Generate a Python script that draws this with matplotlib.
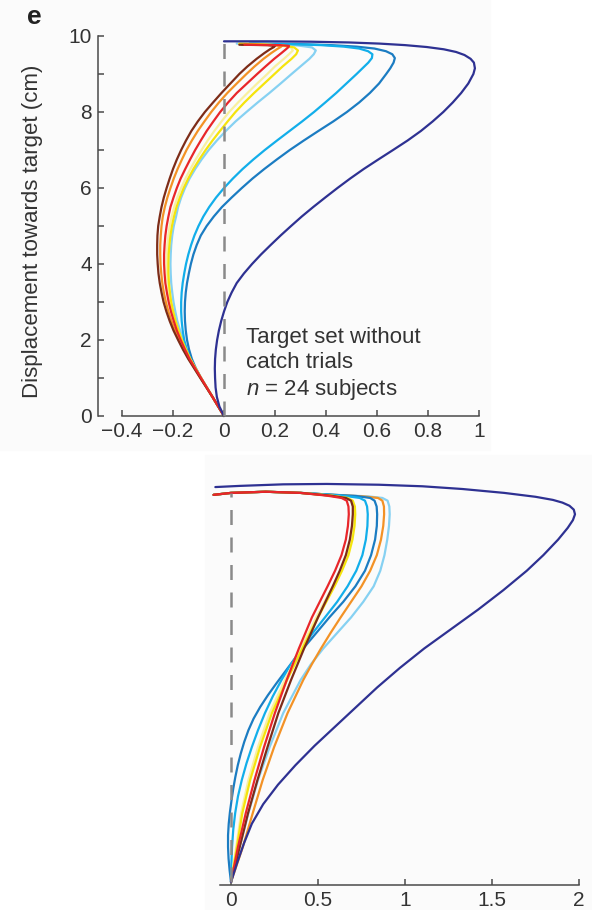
import matplotlib
matplotlib.use("Agg")
import matplotlib.pyplot as plt
from matplotlib.patches import Rectangle

plt.rcParams['font.family'] = ['Liberation Sans', 'DejaVu Sans']
plt.rcParams['mathtext.fontset'] = 'custom'
plt.rcParams['mathtext.rm'] = 'Liberation Sans'
plt.rcParams['mathtext.it'] = 'Liberation Sans:italic'

# ---------- top panel (lateral deviation x, displacement towards target y) ----------
top_navy_y = [0, 0.25, 0.5, 0.75, 1, 1.25, 1.5, 1.75, 2, 2.25, 2.5, 2.75, 3, 3.25, 3.5,
              3.75, 4, 4.25, 4.5, 4.75, 5, 5.25, 5.5, 5.75, 6, 6.25, 6.5, 6.75, 7, 7.25,
              7.5, 7.75, 8, 8.25, 8.5, 8.75, 9, 9.15, 9.3, 9.4, 9.5, 9.58, 9.65, 9.71,
              9.76, 9.8, 9.83, 9.85, 9.86, 9.86]
top_navy_x = [0, -0.018, -0.028, -0.033, -0.035, -0.036, -0.035, -0.032, -0.027, -0.02,
              -0.011, 0.0, 0.013, 0.03, 0.05, 0.078, 0.11, 0.145, 0.183, 0.222, 0.263,
              0.305, 0.35, 0.397, 0.445, 0.495, 0.548, 0.605, 0.663, 0.72, 0.772, 0.818,
              0.86, 0.897, 0.93, 0.958, 0.978, 0.984, 0.98, 0.967, 0.943, 0.91, 0.862,
              0.795, 0.71, 0.61, 0.49, 0.34, 0.17, 0.0]

top_blue_y = [0, 0.5, 1, 1.25, 1.5, 1.75, 2, 2.25, 2.5, 2.75, 3, 3.25, 3.5, 3.75, 4, 4.25,
              4.5, 4.75, 5, 5.25, 5.5, 5.75, 6, 6.25, 6.5, 6.75, 7, 7.25, 7.5, 7.75, 8,
              8.25, 8.5, 8.75, 9, 9.15, 9.3, 9.42, 9.52, 9.6, 9.67, 9.72, 9.76, 9.79, 9.8]
top_medblue_x = [0, -0.045, -0.09, -0.11, -0.126, -0.137, -0.145, -0.15, -0.153, -0.154,
                 -0.153, -0.15, -0.145, -0.138, -0.13, -0.12, -0.107, -0.091, -0.068, -0.04,
                 -0.008, 0.03, 0.07, 0.112, 0.158, 0.207, 0.258, 0.313, 0.37, 0.428, 0.482,
                 0.53, 0.572, 0.608, 0.636, 0.652, 0.665, 0.67, 0.66, 0.635, 0.59, 0.52,
                 0.42, 0.28, 0.1]
top_cyan_x = [0, -0.045, -0.09, -0.112, -0.132, -0.146, -0.156, -0.162, -0.166, -0.168,
              -0.168, -0.166, -0.162, -0.156, -0.149, -0.14, -0.129, -0.116, -0.1, -0.081,
              -0.058, -0.031, 0.0, 0.035, 0.073, 0.115, 0.16, 0.208, 0.257, 0.306, 0.353,
              0.397, 0.44, 0.48, 0.52, 0.543, 0.566, 0.58, 0.582, 0.565, 0.53, 0.47, 0.38,
              0.25, 0.1]

top_cool_y = [0, 0.5, 1, 1.5, 1.75, 2, 2.25, 2.5, 2.75, 3, 3.25, 3.5, 3.75, 4, 4.25, 4.5,
              4.75, 5, 5.25, 5.5, 5.75, 6, 6.25, 6.5, 6.75, 7, 7.25, 7.5, 7.75, 8, 8.25,
              8.5, 8.75, 9, 9.2, 9.4, 9.52, 9.62, 9.7, 9.75, 9.78, 9.8]
top_ltblue_x = [0, -0.045, -0.09, -0.13, -0.146, -0.16, -0.172, -0.183, -0.191, -0.198,
                -0.203, -0.207, -0.209, -0.21, -0.209, -0.207, -0.203, -0.197, -0.188,
                -0.18, -0.168, -0.153, -0.135, -0.113, -0.088, -0.06, -0.028, 0.007, 0.045,
                0.088, 0.132, 0.178, 0.222, 0.265, 0.3, 0.335, 0.352, 0.36, 0.345, 0.29,
                0.18, 0.05]
top_yellow_x = [0, -0.045, -0.09, -0.132, -0.149, -0.165, -0.178, -0.19, -0.199, -0.207,
                -0.212, -0.216, -0.218, -0.218, -0.217, -0.214, -0.21, -0.204, -0.196,
                -0.186, -0.173, -0.158, -0.14, -0.12, -0.097, -0.072, -0.045, -0.016, 0.014,
                0.045, 0.08, 0.118, 0.158, 0.198, 0.23, 0.265, 0.283, 0.29, 0.275, 0.23,
                0.15, 0.06]
top_paleyel_x = [0, -0.045, -0.09, -0.133, -0.151, -0.167, -0.181, -0.193, -0.203, -0.211,
                 -0.217, -0.221, -0.224, -0.225, -0.224, -0.222, -0.218, -0.213, -0.205,
                 -0.195, -0.183, -0.168, -0.151, -0.132, -0.111, -0.088, -0.064, -0.038,
                 -0.01, 0.02, 0.055, 0.092, 0.13, 0.17, 0.2, 0.235, 0.255, 0.27, 0.262,
                 0.225, 0.15, 0.06]

top_warm_y = [0, 0.5, 1, 1.5, 1.75, 2, 2.25, 2.5, 2.75, 3, 3.25, 3.5, 3.75, 4, 4.25, 4.5,
              4.75, 5, 5.25, 5.5, 5.75, 6, 6.25, 6.5, 6.75, 7, 7.25, 7.5, 7.75, 8, 8.25,
              8.5, 8.75, 9, 9.2, 9.4, 9.55, 9.65, 9.71, 9.74, 9.76, 9.77]
top_red_x = [0, -0.045, -0.09, -0.135, -0.153, -0.17, -0.185, -0.197, -0.208, -0.217,
             -0.224, -0.23, -0.233, -0.235, -0.235, -0.233, -0.23, -0.225, -0.218, -0.21,
             -0.198, -0.185, -0.17, -0.152, -0.133, -0.113, -0.091, -0.068, -0.042, -0.015,
             0.016, 0.05, 0.09, 0.13, 0.163, 0.197, 0.225, 0.243, 0.253, 0.255, 0.22, 0.08]
top_orange_x = [0, -0.045, -0.092, -0.138, -0.158, -0.176, -0.192, -0.206, -0.218, -0.228,
                -0.236, -0.242, -0.246, -0.249, -0.25, -0.25, -0.248, -0.245, -0.24, -0.232,
                -0.222, -0.21, -0.197, -0.182, -0.165, -0.147, -0.126, -0.103, -0.077,
                -0.05, -0.02, 0.013, 0.05, 0.088, 0.12, 0.155, 0.185, 0.207, 0.222, 0.227,
                0.19, 0.07]
top_brown_x = [0, -0.045, -0.093, -0.14, -0.161, -0.18, -0.198, -0.213, -0.226, -0.237,
               -0.245, -0.252, -0.257, -0.26, -0.262, -0.262, -0.261, -0.258, -0.252, -0.245,
               -0.236, -0.225, -0.213, -0.2, -0.185, -0.168, -0.149, -0.128, -0.103, -0.075,
               -0.043, -0.01, 0.025, 0.06, 0.092, 0.128, 0.158, 0.18, 0.196, 0.2, 0.17, 0.06]

# ---------- bottom panel ----------
bot_navy_y = [0, 0.5, 1, 1.5, 2, 2.5, 3, 3.5, 4, 4.5, 5, 5.5, 6, 6.5, 7, 7.5, 8, 8.4, 8.8,
              9.1, 9.3, 9.45, 9.57, 9.67, 9.75, 9.82, 9.9, 10.0, 10.1, 10.17, 10.21, 10.23,
              10.22, 10.18, 10.15]
bot_navy_x = [0, 0.036, 0.075, 0.12, 0.185, 0.27, 0.37, 0.48, 0.6, 0.72, 0.84, 0.97, 1.11,
              1.265, 1.42, 1.565, 1.7, 1.795, 1.88, 1.935, 1.965, 1.977, 1.97, 1.945, 1.905,
              1.85, 1.75, 1.57, 1.33, 1.1, 0.85, 0.55, 0.3, 0.05, -0.09]

bot_warm_y = [0, 0.9, 1.77, 2.62, 3.47, 4.34, 5.19, 6.0, 6.8, 7.6, 8.0, 8.4, 8.8, 9.15,
              9.45, 9.65, 9.8, 9.87, 9.93, 10.0, 10.03, 10.0, 9.95]
bot_red_x = [0, 0.04, 0.085, 0.135, 0.19, 0.252, 0.32, 0.39, 0.465, 0.555, 0.598, 0.635,
             0.66, 0.672, 0.677, 0.675, 0.665, 0.635, 0.55, 0.4, 0.2, 0.0, -0.1]
bot_brown_x = [0, 0.05, 0.098, 0.152, 0.21, 0.272, 0.345, 0.42, 0.5, 0.585, 0.625, 0.66,
               0.683, 0.695, 0.7, 0.7, 0.69, 0.66, 0.57, 0.4, 0.2, 0.0, -0.1]
bot_yellow_x = [0, 0.034, 0.065, 0.11, 0.167, 0.235, 0.322, 0.41, 0.5, 0.595, 0.638, 0.675,
                0.698, 0.71, 0.714, 0.712, 0.7, 0.67, 0.58, 0.4, 0.2, 0.0, -0.1]
bot_paleyel_x = [0, 0.03, 0.058, 0.1, 0.155, 0.222, 0.31, 0.4, 0.49, 0.585, 0.628, 0.665,
                 0.688, 0.7, 0.705, 0.703, 0.69, 0.66, 0.57, 0.4, 0.2, 0.0, -0.1]

bot_cyan_y = [0, 0.45, 0.9, 1.35, 1.77, 2.2, 2.62, 3.05, 3.47, 3.9, 4.34, 4.77, 5.19, 5.6,
              6.0, 6.4, 6.8, 7.2, 7.6, 8.0, 8.4, 8.8, 9.15, 9.45, 9.65, 9.8, 9.87, 9.92,
              9.96, 10.0, 10.03, 10.0, 9.95]
bot_cyan_x = [0, 0.002, 0.006, 0.013, 0.024, 0.04, 0.062, 0.089, 0.12, 0.155, 0.195, 0.24,
              0.29, 0.345, 0.405, 0.47, 0.54, 0.61, 0.67, 0.72, 0.755, 0.775, 0.784, 0.786,
              0.782, 0.77, 0.74, 0.66, 0.55, 0.4, 0.2, 0.0, -0.1]

bot_medblue_y = [0, 0.3, 0.6, 0.9, 1.2, 1.5, 1.8, 2.1, 2.4, 2.7, 3.0, 3.3, 3.6, 3.9, 4.2,
                 4.5, 4.8, 5.1, 5.4, 5.7, 6.0, 6.4, 6.8, 7.2, 7.6, 8.0, 8.4, 8.8, 9.15, 9.45,
                 9.65, 9.8, 9.87, 9.92, 9.96, 10.0, 10.03, 10.0, 9.95]
bot_medblue_x = [0, -0.008, -0.014, -0.017, -0.017, -0.013, -0.006, 0.003, 0.013, 0.025,
                 0.039, 0.056, 0.076, 0.1, 0.13, 0.168, 0.212, 0.26, 0.31, 0.36, 0.415, 0.49,
                 0.565, 0.645, 0.715, 0.77, 0.805, 0.828, 0.838, 0.84, 0.837, 0.825, 0.8,
                 0.72, 0.55, 0.4, 0.2, 0.0, -0.1]

bot_outer_y = [0, 0.9, 1.77, 2.62, 3.47, 4.34, 5.19, 5.6, 6.0, 6.4, 6.8, 7.2, 7.6, 8.0, 8.4,
               8.8, 9.15, 9.45, 9.65, 9.8, 9.87, 9.91, 9.96, 10.0, 10.03, 10.0, 9.95]
bot_orange_x = [0, 0.068, 0.125, 0.182, 0.248, 0.325, 0.415, 0.465, 0.517, 0.572, 0.63, 0.69,
                0.75, 0.8, 0.838, 0.862, 0.875, 0.88, 0.879, 0.87, 0.845, 0.76, 0.55, 0.4,
                0.2, 0.0, -0.1]
bot_ltblue_x = [0, 0.05, 0.1, 0.155, 0.222, 0.3, 0.4, 0.46, 0.53, 0.61, 0.69, 0.76, 0.82,
                0.858, 0.882, 0.898, 0.908, 0.912, 0.91, 0.9, 0.87, 0.79, 0.55, 0.4, 0.2,
                0.0, -0.1]

top_xticks = [-0.4, -0.2, 0, 0.2, 0.4, 0.6, 0.8, 1]
top_xlabels = ['\u22120.4', '\u22120.2', '0', '0.2', '0.4', '0.6', '0.8', '1']
top_yticks = [0, 2, 4, 6, 8, 10]
top_yminor = [1, 3, 5, 7, 9]
bot_xticks = [0, 0.5, 1, 1.5, 2]
bot_xlabels = ['0', '0.5', '1', '1.5', '2']

colors = {
    'navy': '#2e3192', 'medblue': '#1b7cc2', 'cyan': '#12aeea', 'ltblue': '#86d1f2',
    'yellow': '#f5e40c', 'paleyel': '#f8f0a0', 'orange': '#f39226', 'red': '#e8262a',
    'brown': '#7d2c18',
}
axcol = '#4a4a4a'
txtcol = '#333333'
lw = 1.6

fig = plt.figure(figsize=(5.92, 9.10), dpi=100)
fig.patches.append(Rectangle((0, 1 - 450 / 910), 490 / 592, 450 / 910,
                             transform=fig.transFigure, color='#fbfbfb', zorder=-10))
fig.patches.append(Rectangle((205 / 592, 0), 1 - 205 / 592, 455 / 910,
                             transform=fig.transFigure, color='#fbfbfb', zorder=-10))


def draw(axis, curves):
    for xs, ys, c in curves:
        axis.plot(xs, ys, color=colors[c], lw=lw, clip_on=False,
                  solid_capstyle='round', solid_joinstyle='round')
    axis.plot([0, 0], [0, 10], color='#8a8a8a', lw=1.8, linestyle=(0, (6, 5)),
              zorder=5, clip_on=False)


# top axes
ax = fig.add_axes([97.5 / 592, 1 - 416 / 910, 381.5 / 592, 380 / 910])
ax.patch.set_visible(False)
ax.set_xlim(-0.4 - 24.5 / 255, 1.0)
ax.set_ylim(0, 10)
draw(ax, [
    (top_ltblue_x, top_cool_y, 'ltblue'), (top_medblue_x, top_blue_y, 'medblue'),
    (top_cyan_x, top_blue_y, 'cyan'), (top_paleyel_x, top_cool_y, 'paleyel'),
    (top_yellow_x, top_cool_y, 'yellow'), (top_orange_x, top_warm_y, 'orange'),
    (top_brown_x, top_warm_y, 'brown'), (top_red_x, top_warm_y, 'red'),
    (top_navy_x, top_navy_y, 'navy'),
])

for s in ['top', 'right']:
    ax.spines[s].set_visible(False)
ax.spines['left'].set_bounds(0, 10)
ax.spines['bottom'].set_bounds(-0.4, 1)
for s in ['left', 'bottom']:
    ax.spines[s].set_color(axcol)
    ax.spines[s].set_linewidth(1.1)
ax.set_xticks(top_xticks)
ax.set_xticklabels(top_xlabels)
ax.set_yticks(top_yticks)
ax.set_yticks(top_yminor, minor=True)
ax.tick_params(which='both', direction='in', length=4, width=1.1, color=axcol,
               labelsize=15, labelcolor=txtcol, pad=4)

ax.text(0.086, 1.92, 'Target set without', fontsize=16, color=txtcol)
ax.text(0.086, 1.26, 'catch trials', fontsize=16, color=txtcol)
ax.text(0.086, 0.55, r'$n$ = 24 subjects', fontsize=16, color=txtcol)

fig.text(33 / 592, 1 - 231 / 910, 'Displacement towards target (cm)', rotation=90,
         ha='center', va='center', fontsize=16, color=txtcol)
fig.text(27 / 592, 1 - 24 / 910, 'e', fontsize=19, fontweight='bold', color='#222222')

# bottom axes
bx = fig.add_axes([220 / 592, 1 - 885 / 910, 359 / 592, 410 / 910])
bx.patch.set_visible(False)
bx.set_xlim(-11 / 174, 2.0)
bx.set_ylim(-3 / 38.9, 10.46)
draw(bx, [
    (bot_ltblue_x, bot_outer_y, 'ltblue'), (bot_orange_x, bot_outer_y, 'orange'),
    (bot_medblue_x, bot_medblue_y, 'medblue'), (bot_cyan_x, bot_cyan_y, 'cyan'),
    (bot_paleyel_x, bot_warm_y, 'paleyel'), (bot_yellow_x, bot_warm_y, 'yellow'),
    (bot_brown_x, bot_warm_y, 'brown'), (bot_red_x, bot_warm_y, 'red'),
    (bot_navy_x, bot_navy_y, 'navy'),
])

for s in ['top', 'right', 'left']:
    bx.spines[s].set_visible(False)
bx.spines['bottom'].set_color(axcol)
bx.spines['bottom'].set_linewidth(1.1)
bx.set_xticks(bot_xticks)
bx.set_xticklabels(bot_xlabels)
bx.set_yticks([])
bx.tick_params(axis='x', direction='in', length=4, width=1.1, color=axcol,
               labelsize=15, labelcolor=txtcol, pad=4)

fig.savefig('out.png', dpi=100)
